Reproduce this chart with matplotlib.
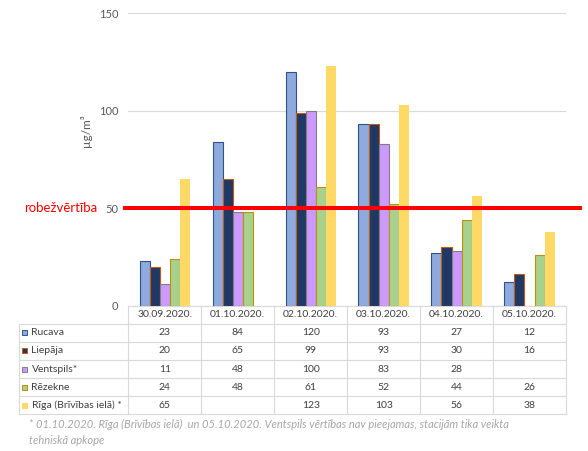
import numpy as np
import matplotlib
matplotlib.use("Agg")
import matplotlib.pyplot as plt
from matplotlib.patches import Rectangle
from matplotlib.lines import Line2D

plt.rcParams['font.family'] = ['Lato', 'DejaVu Sans']

dates = ["30.09.2020.", "01.10.2020.", "02.10.2020.", "03.10.2020.", "04.10.2020.", "05.10.2020."]
series_names = ["Rucava", "Liepāja", "Ventspils*", "Rēzekne", "Rīga (Brīvības ielā) *"]
rucava = [23, 84, 120, 93, 27, 12]
liepaja = [20, 65, 99, 93, 30, 16]
ventspils = [11, 48, 100, 83, 28, np.nan]
rezekne = [24, 48, 61, 52, 44, 26]
riga = [65, np.nan, 123, 103, 56, 38]
limit_value = 50
y_ticks = [0, 50, 100, 150]

values = [rucava, liepaja, ventspils, rezekne, riga]
fills = ["#8FAADC", "#203864", "#CC99FF", "#A9D18E", "#FFD966"]
edges = ["#2F528F", "#C55A11", "#7F7F7F", "#BF9000", "none"]

W, H = 588, 451
fig = plt.figure(figsize=(W / 100, H / 100), dpi=100)

# main axes in pixel layout
left_px, right_px = 128.3, 566.0
top_px, bottom_px = 13.0, 305.7
ax = fig.add_axes([left_px / W, 1 - bottom_px / H, (right_px - left_px) / W, (bottom_px - top_px) / H])

n = len(dates)
x = np.arange(n)
bw = 0.138
for i, (vals, fc, ec) in enumerate(zip(values, fills, edges)):
    off = (i - 2) * bw
    ax.bar(x + off, vals, width=bw, color=fc, edgecolor=ec,
           linewidth=0.8 if ec != "none" else 0, zorder=3)

ax.set_xlim(-0.5, n - 0.5)
ax.set_ylim(0, 150)
ax.set_yticks(y_ticks)
ax.set_xticks([])
ax.tick_params(axis='y', length=0, pad=7, labelsize=8, labelcolor="#595959")
for s in ["top", "right", "left"]:
    ax.spines[s].set_visible(False)
ax.spines["bottom"].set_color("#D9D9D9")
ax.spines["bottom"].set_linewidth(0.8)
ax.yaxis.grid(True, color="#D9D9D9", linewidth=0.8, zorder=0)
ax.set_axisbelow(True)

ax.axhline(limit_value, xmin=-0.0075, xmax=1.032, color="#FF0000", linewidth=2.9,
           clip_on=False, zorder=5)
ax.text(-0.0715, limit_value, "robežvērtība", transform=ax.get_yaxis_transform(),
        ha="right", va="center", color="#FF0000", fontsize=9.5)
ax.text(-0.097, 89.5, "µg/m³", transform=ax.get_yaxis_transform(), rotation=90,
        ha="center", va="center", color="#595959", fontsize=8.5)

# table
tleft_px, ttop_px, tbottom_px = 19.3, 305.7, 414.3
nrows = 1 + len(series_names)
rh = (tbottom_px - ttop_px) / nrows
col_w = (right_px - left_px) / n
line_c = "#D9D9D9"

def px2fig(px, py):
    return px / W, 1 - py / H

def hline(x0, x1, y):
    (a, b), (c, d) = px2fig(x0, y), px2fig(x1, y)
    fig.add_artist(Line2D([a, c], [b, d], color=line_c, linewidth=0.8))

def vline(xp, y0, y1):
    (a, b), (c, d) = px2fig(xp, y0), px2fig(xp, y1)
    fig.add_artist(Line2D([a, c], [b, d], color=line_c, linewidth=0.8))

for r in range(1, nrows + 1):
    hline(tleft_px, right_px, ttop_px + r * rh)
vline(tleft_px, ttop_px + rh, tbottom_px)
for c in range(n + 1):
    vline(left_px + c * col_w, ttop_px, tbottom_px)

txt_c = "#404040"
for c, d in enumerate(dates):
    fx, fy = px2fig(left_px + (c + 0.5) * col_w, ttop_px + 0.5 * rh)
    fig.text(fx, fy, d, ha="center", va="center", fontsize=7.5, color=txt_c)

for r, (name, vals, fc, ec) in enumerate(zip(series_names, values, fills, edges)):
    yc = ttop_px + (r + 1.5) * rh
    sq = 5.0
    fx, fy = px2fig(22.2, yc + sq / 2)
    fig.add_artist(Rectangle((fx, fy), sq / W, sq / H, facecolor=fc,
                             edgecolor=ec if ec != "none" else fc, linewidth=0.7,
                             transform=fig.transFigure))
    fx, fy = px2fig(31.5, yc)
    fig.text(fx, fy, name, ha="left", va="center", fontsize=7.5, color=txt_c)
    for c, v in enumerate(vals):
        if np.isnan(v):
            continue
        fx, fy = px2fig(left_px + (c + 0.5) * col_w, yc)
        fig.text(fx, fy, f"{int(v)}", ha="center", va="center", fontsize=7.5, color=txt_c)

foot_c = "#A6A6A6"
fx, fy = px2fig(29, 424)
fig.text(fx, fy, "* 01.10.2020. Rīga (Brīvības ielā)  un 05.10.2020. Ventspils vērtības nav pieejamas, stacijām tika veikta",
         ha="left", va="center", fontsize=8, color=foot_c, style="italic")
fx, fy = px2fig(29, 441)
fig.text(fx, fy, "tehniskā apkope", ha="left", va="center", fontsize=8, color=foot_c, style="italic")

fig.savefig("out.png", dpi=100)
